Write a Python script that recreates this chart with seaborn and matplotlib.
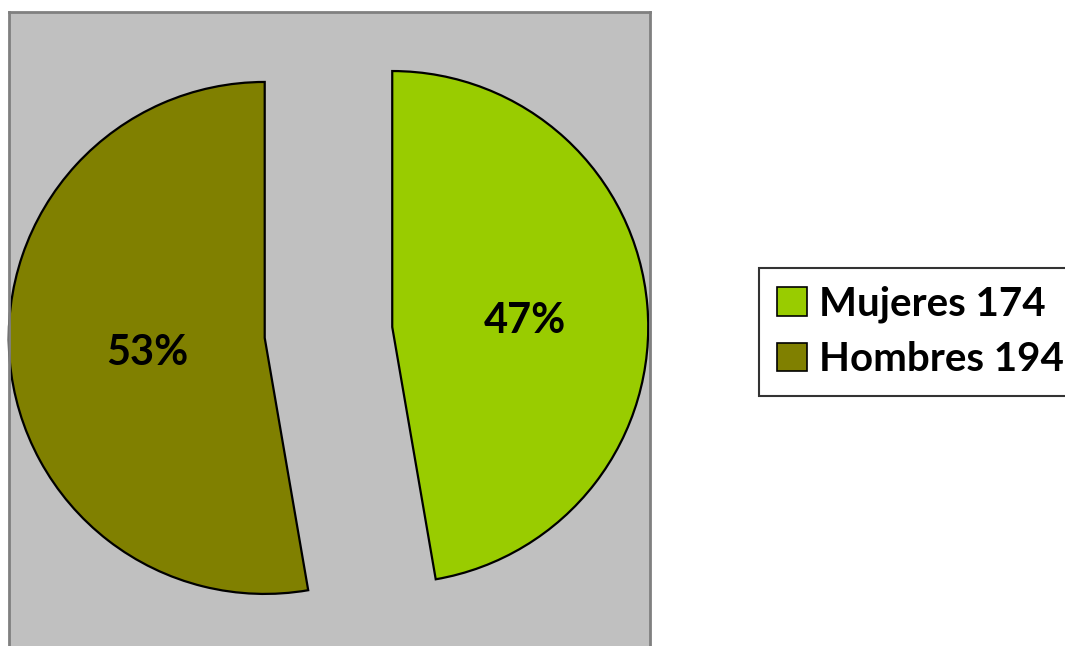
import matplotlib
matplotlib.use("Agg")
import matplotlib.pyplot as plt
import seaborn as sns

# data
labels = ["Mujeres 174", "Hombres 194"]
counts = [174, 194]
colors = ["#99CC00", "#808000"]

sns.set_style("white")
plt.rcParams["font.family"] = ["Lato", "DejaVu Sans"]
plt.rcParams["font.weight"] = "bold"
plt.rcParams["text.color"] = "black"

fig = plt.figure(figsize=(10.65, 6.46), dpi=100)
ax = fig.add_axes([9 / 1065, -0.01, 641 / 1065, 1 - 12 / 646 + 0.01])
ax.set_facecolor("#C0C0C0")

wedges, texts, autotexts = ax.pie(
    counts,
    colors=colors,
    startangle=90,
    counterclock=False,
    explode=[0.25, 0.25],
    autopct="%1.0f%%",
    pctdistance=0.49,
    wedgeprops=dict(edgecolor="black", linewidth=1.6),
    textprops=dict(fontsize=30, fontweight="bold", color="black"),
)
# nudge the percent labels a little right and down, like the original
for t in autotexts:
    x, y = t.get_position()
    t.set_position((x + 0.03, y - 0.018))

ax.set_aspect("auto")
ax.set_xlim(-1.248, 1.256)
ax.set_ylim(-1.25, 1.252)
ax.set_xticks([])
ax.set_yticks([])
ax.set_frame_on(True)
for side in ["top", "left", "right"]:
    ax.spines[side].set_visible(True)
    ax.spines[side].set_color("#808080")
    ax.spines[side].set_linewidth(2)
ax.spines["bottom"].set_visible(False)

leg = fig.legend(
    wedges, labels,
    loc="center left",
    bbox_to_anchor=(759 / 1065, 1 - 332 / 646),
    frameon=True, fancybox=False,
    prop=dict(family=["Lato", "DejaVu Sans"], weight="bold", size=29),
    handlelength=0.75, handleheight=0.7, handletextpad=0.3,
    borderpad=0.45, labelspacing=0.45, borderaxespad=0,
    labelcolor="black",
)
leg.get_frame().set_edgecolor("black")
leg.get_frame().set_linewidth(1.5)
for h in leg.legend_handles:
    h.set_linewidth(1.2)

fig.savefig("out.png", dpi=100)
